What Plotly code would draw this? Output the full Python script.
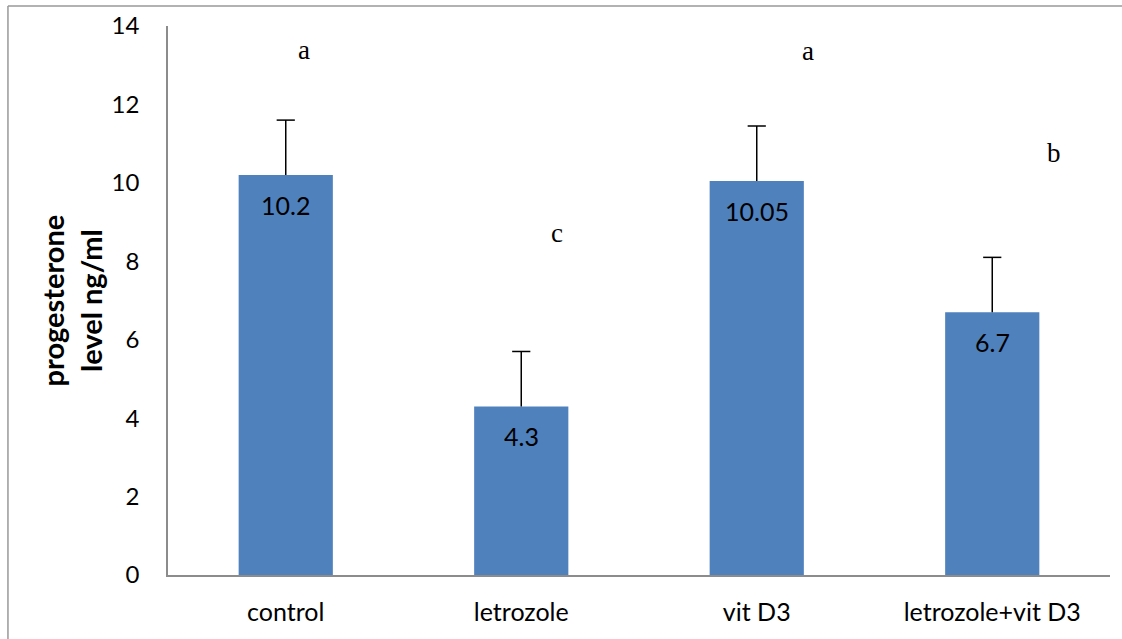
import plotly.graph_objects as go

categories = ["control", "letrozole", "vit D3", "letrozole+vit D3"]
values = [10.2, 4.3, 10.05, 6.7]
errors = [1.4, 1.4, 1.4, 1.4]
value_labels = ["10.2", "4.3", "10.05", "6.7"]
letters = ["a", "c", "a", "b"]
letter_y = [13.4, 8.72, 13.35, 10.76]
letter_shift = [18, 36, 51, 62]

FONT = "Lato, Open Sans, sans-serif"

fig = go.Figure()
fig.add_trace(go.Bar(
    x=categories, y=values, width=0.4,
    marker=dict(color="#4F81BD", line=dict(width=0)),
    showlegend=False, hoverinfo="skip",
))
# error bars: upper part only, cap drawn as marker
tops = [v + e for v, e in zip(values, errors)]
fig.add_trace(go.Scatter(
    x=categories, y=tops, mode="markers",
    marker=dict(symbol="line-ew", size=13, line=dict(color="black", width=1.5)),
    error_y=dict(type="data", array=[0]*4, arrayminus=errors, symmetric=False,
                 color="black", thickness=1.5, width=0),
    showlegend=False, hoverinfo="skip",
))

for c, v, t in zip(categories, values, value_labels):
    fig.add_annotation(x=c, y=v, text=t, showarrow=False, yshift=-30,
                       font=dict(family=FONT, size=25, color="black"))

for c, ly, t, s in zip(categories, letter_y, letters, letter_shift):
    fig.add_annotation(x=c, y=ly, text=t, showarrow=False, xshift=s,
                       font=dict(family="Liberation Serif, Times New Roman, serif", size=27, color="black"))

fig.add_annotation(xref="paper", yref="paper", x=-0.102, y=0.5, xanchor="center", yanchor="middle",
                   text="<b>progesterone<br>level ng/ml</b>", textangle=-90, showarrow=False,
                   font=dict(family=FONT, size=29, color="black"))

# outer frame (left and top edges visible)
fig.add_shape(type="line", xref="paper", yref="paper", x0=-0.1699, x1=-0.1699, y0=-0.2, y1=1.0364,
              line=dict(color="#999999", width=1.5))
fig.add_shape(type="line", xref="paper", yref="paper", x0=-0.1699, x1=1.02, y0=1.0364, y1=1.0364,
              line=dict(color="#999999", width=1.5))

fig.update_layout(
    width=1122, height=639,
    margin=dict(l=168, r=12, t=26, b=64),
    paper_bgcolor="white", plot_bgcolor="white",
    font=dict(family=FONT, size=25, color="black"),
    bargap=0.6,
)
fig.update_xaxes(showline=True, linecolor="#8c8c8c", linewidth=1.5, ticks="", showgrid=False,
                 ticklabelstandoff=14, tickfont=dict(size=25), automargin=False)
fig.update_yaxes(range=[0, 14], dtick=2, showline=True, linecolor="#8c8c8c", linewidth=1.5,
                 ticks="", showgrid=False, zeroline=False, ticklabelstandoff=22,
                 tickfont=dict(size=24), automargin=False)

fig.write_html("out.html", config={"displayModeBar": False},
               post_script="document.body.style.margin='0';document.body.style.overflow='hidden';")
